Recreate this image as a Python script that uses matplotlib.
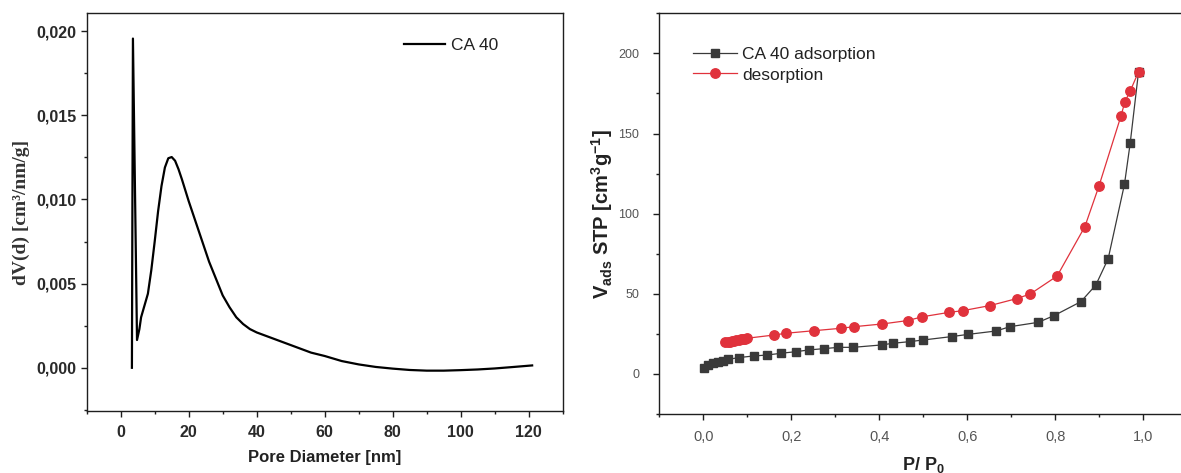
import matplotlib
matplotlib.use("Agg")
import matplotlib.pyplot as plt
from matplotlib.ticker import MultipleLocator

plt.rcParams["mathtext.fontset"] = "custom"
plt.rcParams["mathtext.rm"] = "Liberation Sans"
plt.rcParams["mathtext.bf"] = "Liberation Sans:bold"
plt.rcParams["mathtext.it"] = "Liberation Sans:italic"

# ---- pore size distribution (CA 40) ----
pore_d = [3.3, 3.6, 4.8, 5.5, 6.0, 7.0, 8.0, 9.0, 10.0, 11.0, 12.0, 13.0,
          14.0, 15.0, 16.0, 17.0, 18.0, 20.0, 22.0, 24.0, 26.0, 28.0, 30.0,
          32.0, 34.0, 36.0, 38.0, 40.0, 44.0, 48.0, 52.0, 56.0, 60.0, 65.0,
          70.0, 75.0, 80.0, 85.0, 90.0, 95.0, 100.0, 105.0, 110.0, 115.0,
          121.0]
dv_d = [0.0, 0.01956, 0.00165, 0.0023, 0.0030, 0.0037, 0.0044, 0.0058,
        0.0075, 0.0093, 0.0108, 0.0119, 0.01245, 0.01252, 0.0123, 0.0118,
        0.0112, 0.0099, 0.0087, 0.0075, 0.0063, 0.0053, 0.0043, 0.0036,
        0.0030, 0.0026, 0.0023, 0.0021, 0.0018, 0.0015, 0.0012, 0.0009,
        0.0007, 0.0004, 0.0002, 0.00005, -0.00005, -0.00013, -0.00017,
        -0.00017, -0.00014, -0.0001, -0.00004, 0.00004, 0.00014]

# ---- N2 isotherm (CA 40) ----
ads_p = [0.002, 0.011, 0.023, 0.034, 0.045, 0.057, 0.080, 0.114, 0.144,
         0.177, 0.210, 0.241, 0.274, 0.307, 0.340, 0.405, 0.430, 0.470,
         0.500, 0.564, 0.602, 0.665, 0.697, 0.761, 0.797, 0.858, 0.892,
         0.920, 0.957, 0.970, 0.989]
ads_v = [3.5, 5.6, 7.1, 7.7, 8.3, 9.1, 10.2, 11.2, 11.8, 12.9, 13.9, 15.0,
         15.8, 16.6, 16.6, 18.1, 19.1, 20.2, 21.2, 23.3, 24.7, 26.8, 29.5,
         32.2, 36.4, 45.1, 55.5, 71.9, 118.3, 143.9, 188.5]

des_p = [0.989, 0.970, 0.958, 0.949, 0.899, 0.867, 0.804, 0.743, 0.712,
         0.652, 0.590, 0.558, 0.498, 0.464, 0.407, 0.343, 0.313, 0.252,
         0.188, 0.161, 0.100, 0.095, 0.090, 0.085, 0.080, 0.075, 0.070,
         0.065, 0.060, 0.055, 0.050]
des_v = [188.5, 176.5, 169.8, 160.9, 117.2, 91.9, 61.1, 49.9, 47.0, 42.7,
         39.5, 38.4, 35.7, 33.3, 31.2, 29.5, 28.5, 27.0, 25.4, 24.3, 22.3,
         22.1, 21.8, 21.5, 21.2, 21.0, 20.7, 20.4, 20.2, 20.0, 19.8]

x1_ticks = [0, 20, 40, 60, 80, 100, 120]
y1_ticks = [0.0, 0.005, 0.010, 0.015, 0.020]
y1_labels = ["0,000", "0,005", "0,010", "0,015", "0,020"]
x2_ticks = [0.0, 0.2, 0.4, 0.6, 0.8, 1.0]
x2_labels = ["0,0", "0,2", "0,4", "0,6", "0,8", "1,0"]
y2_ticks = [0, 50, 100, 150, 200]

sans = "Liberation Sans"
serif = "Liberation Serif"
dark = "#1e1e1e"

fig = plt.figure(figsize=(11.81, 4.73), dpi=100)


def style_axes(ax):
    for s in ax.spines.values():
        s.set_linewidth(1.0)
        s.set_color(dark)
    ax.tick_params(which="both", direction="out", top=False, right=False,
                   color=dark, width=1.0)
    ax.tick_params(which="major", length=4.5)
    ax.tick_params(which="minor", length=2.5)


# ---------------- left panel ----------------
ax1 = fig.add_axes([0.0734, 0.1317, 0.4031, 0.8398])
ax1.plot(pore_d, dv_d, color="black", lw=1.6, label="CA 40")
ax1.set_xlim(-10, 130)
ax1.set_ylim(-0.00255, 0.02105)
ax1.xaxis.set_minor_locator(MultipleLocator(10))
ax1.yaxis.set_minor_locator(MultipleLocator(0.0025))
ax1.set_xticks(x1_ticks)
ax1.set_yticks(y1_ticks)
ax1.set_yticklabels(y1_labels)
style_axes(ax1)
for lab in ax1.get_xticklabels() + ax1.get_yticklabels():
    lab.set_fontfamily(sans)
    lab.set_fontweight("bold")
    lab.set_fontsize(11.5)
    lab.set_color("#2a2a2a")
ax1.tick_params(axis="x", pad=6)
ax1.tick_params(axis="y", pad=3)
ax1.set_xlabel("Pore Diameter [nm]", fontfamily=sans, fontweight="bold",
               fontsize=12, color="#222222", labelpad=7)
ax1.set_ylabel("dV(d) [cm³/nm/g]", fontfamily=serif,
               fontweight="bold", fontsize=14, color="#333333", labelpad=4)
leg1 = ax1.legend(loc="upper left", bbox_to_anchor=(0.633, 0.978),
                  frameon=False, handlelength=2.4, handletextpad=0.3,
                  prop={"family": sans, "size": 12.5})
for t in leg1.get_texts():
    t.set_color("#222222")

# ---------------- right panel ----------------
ax2 = fig.add_axes([0.5583, 0.1247, 0.4471, 0.8471])
red = "#e0323c"
grey = "#3a3a3a"
ax2.plot(ads_p, ads_v, color=grey, lw=0.9, marker="s", ms=6.3,
         mfc=grey, mec=grey, label="CA 40 adsorption")
ax2.plot(des_p, des_v, color=red, lw=0.9, marker="o", ms=6.8,
         mfc=red, mec=red, label="desorption")
ax2.set_xlim(-0.1, 1.1)
ax2.set_ylim(-25, 225)
ax2.xaxis.set_minor_locator(MultipleLocator(0.1))
ax2.yaxis.set_minor_locator(MultipleLocator(25))
ax2.set_xticks(x2_ticks)
ax2.set_xticklabels(x2_labels)
ax2.set_yticks(y2_ticks)
style_axes(ax2)
for lab in ax2.get_xticklabels():
    lab.set_fontfamily(sans)
    lab.set_fontsize(10.5)
    lab.set_color("#555555")
for lab in ax2.get_yticklabels():
    lab.set_fontfamily(sans)
    lab.set_fontsize(9)
    lab.set_color("#555555")
ax2.tick_params(axis="x", pad=7)
ax2.tick_params(axis="y", pad=10)
ax2.set_xlabel(r"P/ P$_\mathbf{0}$", fontfamily=sans, fontweight="bold",
               fontsize=13, color="#222222", labelpad=8)
ax2.set_ylabel(r"V$_\mathbf{ads}$ STP [cm$^\mathbf{3}$g$^\mathbf{-1}$]",
               fontfamily=sans, fontweight="bold", fontsize=14.5,
               color="#222222", labelpad=2)
leg2 = ax2.legend(loc="upper left", bbox_to_anchor=(0.035, 0.955),
                  frameon=False, handlelength=2.5, handletextpad=0.3,
                  labelspacing=0.3, prop={"family": sans, "size": 12.5})
for t in leg2.get_texts():
    t.set_color("#222222")

fig.savefig("out.png", dpi=100)
